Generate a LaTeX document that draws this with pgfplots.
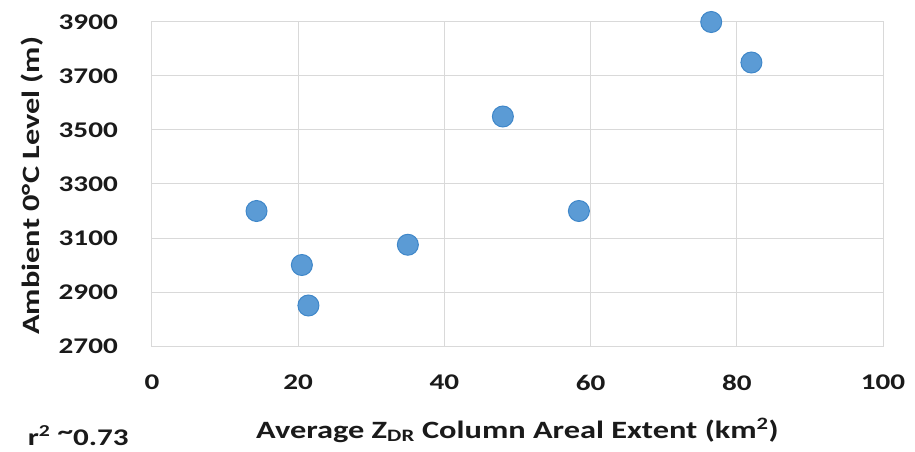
\documentclass[border=0pt]{standalone}
\usepackage{pgfplots}
\pgfplotsset{compat=1.18}
\usepackage{fontspec}
\setmainfont{Carlito}[FakeStretch=1.3]
\definecolor{gridc}{HTML}{D9D9D9}
\definecolor{markf}{HTML}{5B9BD5}
\definecolor{marke}{HTML}{3F87C9}
\definecolor{txt}{HTML}{1A1A1A}
\begin{document}
\begin{tikzpicture}
\path[use as bounding box] (-152bp,-106bp) rectangle (763bp,346bp);
\begin{axis}[
  at={(0,0)}, anchor=south west,
  scale only axis, width=731bp, height=324bp,
  xmin=0, xmax=100, ymin=2700, ymax=3900,
  xtick={0,20,40,60,80,100},
  ytick={2700,2900,3100,3300,3500,3700,3900},
  grid=major, major grid style={gridc, line width=1bp},
  axis line style={gridc, line width=1bp},
  tick style={draw=none},
  clip=false,
  /pgf/number format/assume math mode=true,
  /pgf/number format/1000 sep={},
  every tick label/.append style={font=\bfseries\fontsize{22.5}{26}\selectfont, text=txt},
  yticklabel style={anchor=east, inner sep=0pt, xshift=-34bp},
  xticklabel style={anchor=north, inner sep=0pt, yshift=-29bp},
  xlabel={Average Z\textsubscript{DR} Column Areal Extent (km\textsuperscript{2})},
  ylabel={Ambient 0°C Level (m)},
  label style={font=\bfseries\fontsize{25}{29}\selectfont, text=txt},
  xlabel style={at={(axis description cs:0.5,-0.284)}, anchor=base, inner sep=0pt},
  ylabel style={at={(axis description cs:-0.164,0.495)}, anchor=center, inner sep=0pt},
]
\addplot[only marks, mark=*, mark size=10.5bp, mark options={fill=markf, draw=marke, line width=1bp}]
coordinates {
(14.3,3200) (20.5,3000) (21.4,2850) (35.0,3075) (48.0,3550) (58.4,3200) (76.5,3900) (82.0,3750)
};
\node[anchor=base west, inner sep=0pt, font=\bfseries\fontsize{24}{28}\selectfont, text=txt]
  at (rel axis cs:-0.170,-0.306) {r\textsuperscript{2} \raisebox{0.22em}{\textasciitilde}0.73};
\end{axis}
\end{tikzpicture}
\end{document}
